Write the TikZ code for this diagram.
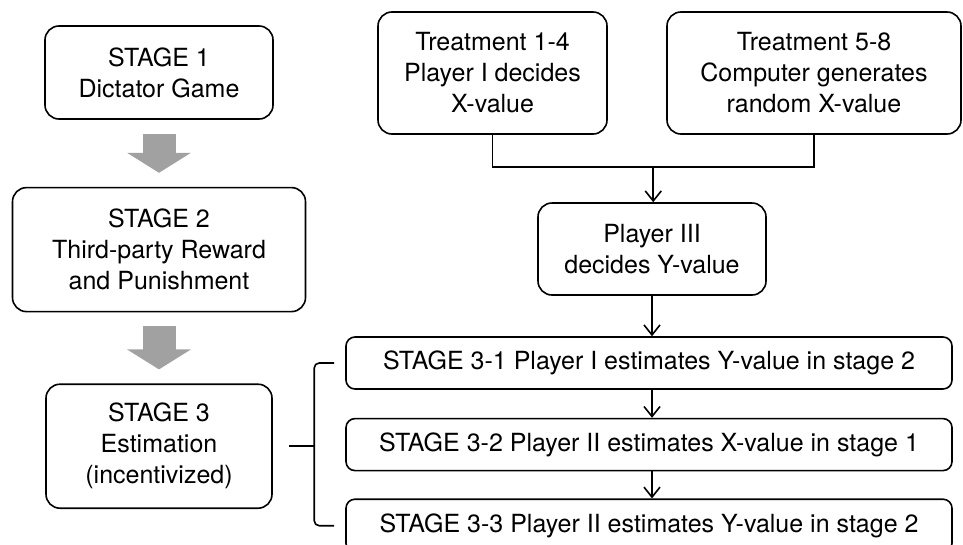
\documentclass[tikz,border=0pt]{standalone}
\usepackage{fontspec}
\setmainfont{TeX Gyre Heros}
\usetikzlibrary{arrows.meta, positioning, calc}

\begin{document}
\begin{tikzpicture} [x=1pt, y=-1pt, align=center, line width=1.6pt, >={Straight Barb[length=10pt,width=16pt]},
	box/.style={draw, rounded corners=14pt, inner sep=0pt, font=\fontsize{25}{31}\selectfont},
	wide/.style={box, rounded corners=9pt, minimum width=606pt, minimum height=52pt},
	fat_arrow/.style={draw=black!37, line width=33pt, -{Triangle[length=20pt,width=63pt]}, shorten <=14pt, shorten >=14pt},
	brace_line/.style={rounded corners=5pt}]

\useasboundingbox (0,0) rectangle (963,544);

% stages on the left
\node[box, minimum width=228pt, minimum height=93pt]	(stage_one)	at (159,72.5)	{STAGE 1\\Dictator Game};
\node[box, minimum width=293pt, minimum height=124pt]	(stage_two)	[below=67pt of stage_one]	{STAGE 2\\Third-party Reward\\and Punishment};
\node[box, minimum width=226pt, minimum height=124pt]	(stage_three)	[below=71pt of stage_two]	{STAGE 3\\Estimation\\(incentivized)};

% treatments and estimations on the right
\node[box, minimum width=229pt, minimum height=122pt]	(treat_a)	at (492.5,73)	{Treatment 1-4\\Player I decides\\X-value};
\node[box, minimum width=294pt, minimum height=122pt]	(treat_b)	at (814,73)	{Treatment 5-8\\Computer generates\\random X-value};
\node[box, minimum width=228pt, minimum height=92pt]	(player_three)	at (652,249)	{Player III\\decides Y-value};
\node[wide]	(est_one)	at (649,363)	{STAGE 3-1 Player I estimates Y-value in stage 2};
\node[wide]	(est_two)	[below=28pt of est_one]	{STAGE 3-2 Player II estimates X-value in stage 1};
\node[wide, minimum height=53pt]	(est_three)	[below=27pt of est_two]	{STAGE 3-3 Player II estimates Y-value in stage 2};

\coordinate (join) at ($(treat_a.south)!0.5!(treat_b.south)+(0,32)$);
\coordinate (brace_mid) at ($(est_one.west |- stage_three.east)+(-31,0)$);

\draw[fat_arrow] (stage_one) -- (stage_two);
\draw[fat_arrow] (stage_two) -- (stage_three);

\draw (treat_a.south) |- (join) -| (treat_b.south);
\path[->]	(join)	edge	(join |- player_three.north)
		(player_three.south)	edge	(player_three.south |- est_one.north)
		(player_three.south |- est_one.south)	edge	(player_three.south |- est_two.north)
		(player_three.south |- est_two.south)	edge	(player_three.south |- est_three.north);

% brace
\draw[brace_line] ([xshift=-11pt]est_one.west) -| (brace_mid) |- ([xshift=-11pt]est_three.west);
\draw (brace_mid) -- ([xshift=16pt]stage_three.east);

\end{tikzpicture}
\end{document}
